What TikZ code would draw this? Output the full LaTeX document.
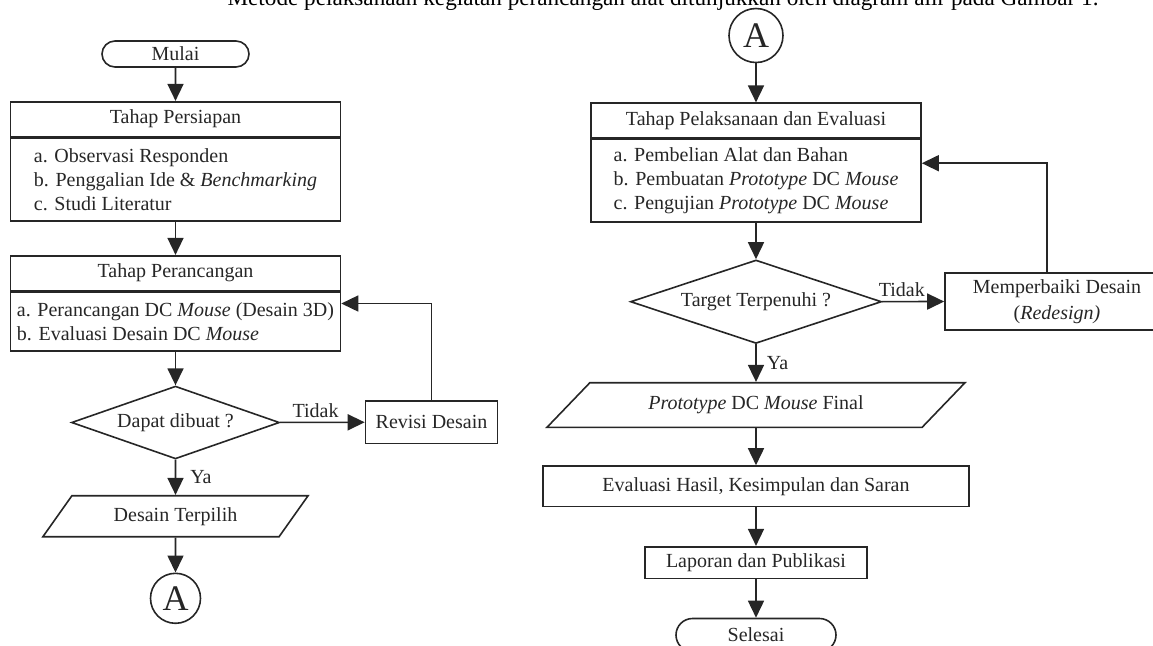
\documentclass[tikz,border=0pt]{standalone}
\usepackage{fontspec}
\setmainfont{Liberation Serif}
\usetikzlibrary{arrows.meta, positioning, shapes.geometric, shapes.misc}

\begin{document}
\begin{tikzpicture}[x=0.5pt, y=-0.5pt, font=\fontsize{10}{12}\selectfont,
		color=black!85, line width=0.8pt,
		every node/.style={draw, inner sep=2pt},
		flow/.style={-{Triangle[length=8.5pt, width=8pt]}},
		terminal/.style={rounded rectangle, minimum height=13pt},
		header/.style={rectangle, minimum width=165pt, minimum height=17.3pt},
		isi/.style={rectangle, minimum width=165pt, align=left, inner ysep=4pt},
		keputusan/.style={diamond, inner sep=0pt},
		data/.style={trapezium, trapezium stretches body, inner sep=0pt},
		proses/.style={rectangle},
		konektor/.style={circle, inner sep=0pt, font=\fontsize{18}{18}\selectfont}]
	\useasboundingbox (0,0) rectangle (1153,645);

	\node[draw=none, anchor=base, text=black, font=\fontsize{11.6}{13}\selectfont] (pengantar) at (663,5)
		{Metode pelaksanaan kegiatan perancangan alat ditunjukkan oleh diagram alir pada Gambar 1.};

	% kolom kiri
	\node[terminal, minimum width=77.5pt] (mulai) at (175.5,54) {Mulai};
	\node[header] (persiapan) at (175.5,119) {Tahap Persiapan};
	\node[isi, below=0pt of persiapan, minimum height=41.4pt] (persiapanIsi)
		{a. Observasi Responden\\ b. Penggalian Ide \& \textit{Benchmarking}\\ c. Studi Literatur};
	\node[header] (perancangan) at (175.5,273) {Tahap Perancangan};
	\node[isi, below=0pt of perancangan, minimum height=29.4pt] (perancanganIsi)
		{a. Perancangan DC \textit{Mouse} (Desain 3D)\\ b. Evaluasi Desain DC \textit{Mouse}};
	\node[keputusan, aspect=2.9, minimum width=104pt, minimum height=36.4pt] (dapat) at (175.5,422.5) {Dapat dibuat ?};
	\node[proses, minimum width=66pt, minimum height=21.2pt] (revisi) at (431.5,422.2) {Revisi Desain};
	\node[data, trapezium left angle=32, trapezium right angle=148,
		minimum width=132.6pt, minimum height=20.5pt] (terpilih) at (175.5,516.2) {Desain Terpilih};
	\node[konektor, minimum size=25pt] (konA) at (175.5,598.3) {A};

	% kolom kanan
	\node[konektor, minimum size=27pt] (konB) at (756,35.5) {A};
	\node[header] (pelaksanaan) at (756,120.5) {Tahap Pelaksanaan dan Evaluasi};
	\node[isi, below=0pt of pelaksanaan, minimum height=41.2pt] (pelaksanaanIsi)
		{a. Pembelian Alat dan Bahan\\ b. Pembuatan \textit{Prototype} DC \textit{Mouse}\\ c. Pengujian \textit{Prototype} DC \textit{Mouse}};
	\node[keputusan, aspect=3, minimum width=125.5pt, minimum height=41.7pt] (target) at (756,301.7) {Target Terpenuhi ?};
	\node[proses, align=center, inner sep=1pt, minimum width=112pt, minimum height=28.7pt] (perbaiki) at (1057,301.4)
		{Memperbaiki Desain\\[1pt] (\textit{Redesign)}};
	\node[data, trapezium left angle=23, trapezium right angle=157,
		minimum width=209pt, minimum height=22.3pt] (final) at (756,405) {\textit{Prototype} DC \textit{Mouse} Final};
	\node[proses, minimum width=213pt, minimum height=20.3pt] (hasil) at (756,486.3) {Evaluasi Hasil, Kesimpulan dan Saran};
	\node[proses, minimum width=110.8pt, minimum height=15.8pt] (laporan) at (756,562.5) {Laporan dan Publikasi};
	\node[terminal, minimum width=84pt, minimum height=16.5pt] (selesai) at (756,635) {Selesai};

	\draw[flow] (mulai) -- (persiapan);
	\draw[flow] (persiapanIsi) -- (perancangan);
	\draw[flow] (perancanganIsi) -- (dapat);
	\draw[flow] (dapat) -- node[pos=0.42, draw=none, above] {Tidak} (revisi);
	\draw[flow] (revisi.north) |- ([yshift=-6.2pt]perancanganIsi.north east);
	\draw[flow] (dapat) -- node[midway, draw=none, right=5pt] {Ya} (terpilih);
	\draw[flow] (terpilih) -- (konA);

	\draw[flow] (konB) -- (pelaksanaan);
	\draw[flow] (pelaksanaanIsi) -- (target);
	\draw[flow] (target) -- node[pos=0.32, draw=none, above] {Tidak} (perbaiki);
	\draw[flow] ([xshift=-5pt]perbaiki.north) |- ([yshift=-12.3pt]pelaksanaanIsi.north east);
	\draw[flow] (target) -- node[midway, draw=none, right=3pt] {Ya} (final);
	\draw[flow] (final) -- (hasil);
	\draw[flow] (hasil) -- (laporan);
	\draw[flow] (laporan) -- (selesai);
\end{tikzpicture}
\end{document}
